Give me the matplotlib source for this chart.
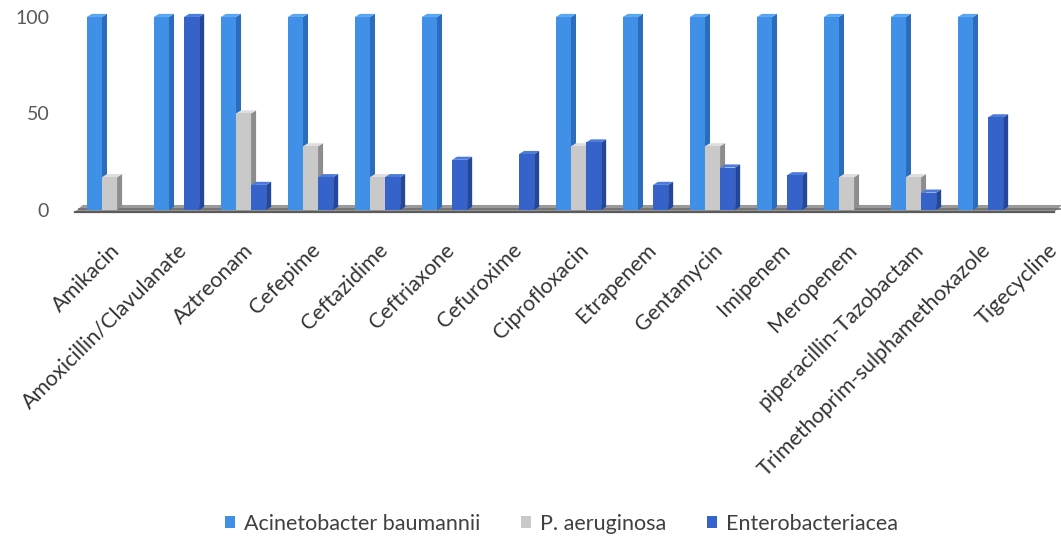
import matplotlib
matplotlib.use("Agg")
import matplotlib.pyplot as plt
from matplotlib.patches import Polygon, Rectangle, Patch
import numpy as np

plt.rcParams['font.family'] = ['Lato', 'DejaVu Sans']

drugs = ["Amikacin", "Amoxicillin/Clavulanate", "Aztreonam", "Cefepime", "Ceftazidime",
         "Ceftriaxone", "Cefuroxime", "Ciprofloxacin", "Etrapenem", "Gentamycin",
         "Imipenem", "Meropenem", "piperacillin-Tazobactam",
         "Trimethoprim-sulphamethoxazole", "Tigecycline"]
acinetobacter = [100, 100, 100, 100, 100, 100, 0, 100, 100, 100, 100, 100, 100, 100, 0]
pseudomonas = [17, 0, 50, 33, 17, 0, 0, 33, 0, 33, 0, 17, 17, 0, 0]
entero = [0, 100, 13, 17, 17, 26, 29, 35, 13, 22, 18, 0, 9, 48, 0]

series_names = ["Acinetobacter baumannii", "P. aeruginosa", "Enterobacteriacea"]
front_cols = ["#3f90e6", "#c9c9c9", "#3663c9"]
side_cols = ["#2b6cbc", "#8d8d8d", "#24479e"]
top_cols = ["#5aa6f0", "#dedede", "#4f7bd8"]

fig = plt.figure(figsize=(10.61, 5.38), dpi=100)
ax = fig.add_axes([0.066, 0.6004, 0.9312, 0.3848])
ax.set_xlim(-0.5896, 14.157)
ax.set_ylim(-2.59, 104.66)

w = 0.225      # bar width in category units
dx = 0.075     # depth offset, x
dy = 1.6       # depth offset, y

# floor slab under the columns
floor = Polygon([(-0.52, -1.1), (-0.40, 2.6), (14.22, 2.6), (14.10, -1.1)],
                closed=True, facecolor="#9a9a9a", edgecolor="none", zorder=1, clip_on=False)
ax.add_patch(floor)
ax.plot([-0.52, 14.10], [-1.1, -1.1], color="#5c5c5c", lw=1.6, zorder=1.5, clip_on=False)
ax.plot([-0.45, 14.18], [0.6, 0.6], color="#6e6e6e", lw=1.2, zorder=1.5, clip_on=False)

x = np.arange(len(drugs))
data = [acinetobacter, pseudomonas, entero]
for i in range(len(drugs)):
    for s in range(3):
        v = data[s][i]
        if v <= 0:
            continue
        x0 = x[i] - 1.5 * w + s * w
        z = 2 + i * 0.1 + s * 0.02
        ax.add_patch(Polygon([(x0 + w, 0), (x0 + w + dx, dy), (x0 + w + dx, v + dy), (x0 + w, v)],
                             closed=True, facecolor=side_cols[s], edgecolor="none", zorder=z))
        ax.add_patch(Polygon([(x0, v), (x0 + dx, v + dy), (x0 + w + dx, v + dy), (x0 + w, v)],
                             closed=True, facecolor=top_cols[s], edgecolor="none", zorder=z))
        ax.add_patch(Rectangle((x0, 0), w, v, facecolor=front_cols[s], edgecolor="none", zorder=z + 0.01))

for sp in ax.spines.values():
    sp.set_visible(False)
ax.set_yticks([0, 50, 100])
ax.tick_params(axis="y", length=0, pad=15, labelsize=14, labelcolor="#595959")
ax.set_xticks(x)
ax.set_xticklabels(drugs, rotation=45, ha="right", rotation_mode="anchor", fontsize=15.5, color="#333333")
ax.tick_params(axis="x", length=0, pad=18)

handles = [Patch(facecolor=c, edgecolor="none") for c in front_cols]
fig.legend(handles, series_names, loc="center", bbox_to_anchor=(0.529, 0.026), ncol=3,
           frameon=False, fontsize=15.5, handlelength=0.47, handleheight=0.47,
           handletextpad=0.4, columnspacing=1.9, labelcolor="#404040")

fig.savefig("out.png", dpi=100)
